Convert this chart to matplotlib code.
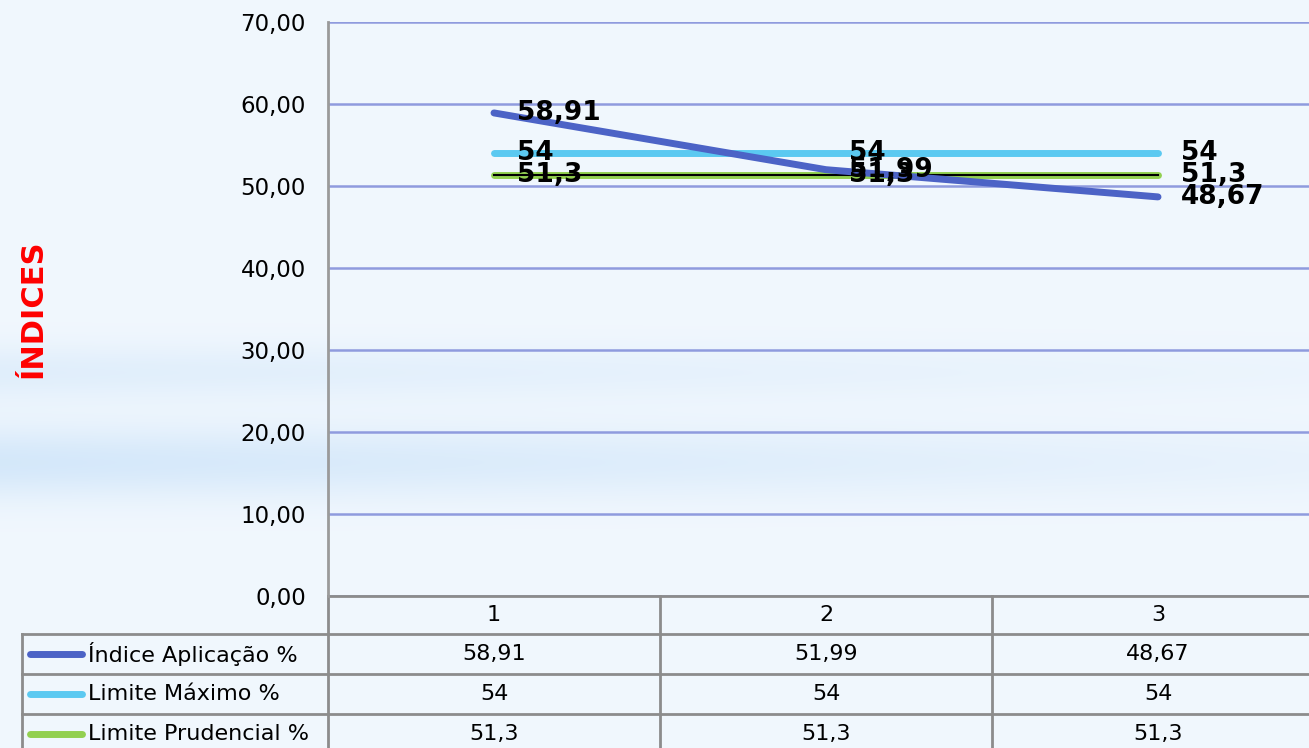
import numpy as np
import matplotlib.pyplot as plt
from matplotlib.transforms import blended_transform_factory

categorias = ["1", "2", "3"]
series_nomes = ["Índice Aplicação %", "Limite Máximo %", "Limite Prudencial %"]
indice_aplicacao = [58.91, 51.99, 48.67]
limite_maximo = [54, 54, 54]
limite_prudencial = [51.3, 51.3, 51.3]
rotulos_tabela = [
    ["58,91", "51,99", "48,67"],
    ["54", "54", "54"],
    ["51,3", "51,3", "51,3"],
]
y_ticks = [0, 10, 20, 30, 40, 50, 60, 70]

cores = ["#4C63C6", "#5BC9F1", "#92D050"]

W, H = 1309, 748
fig = plt.figure(figsize=(W / 100, H / 100), dpi=100)

# fundo em degradê azul claro
bg = fig.add_axes([0, 0, 1, 1], zorder=0)
yy, xx = np.mgrid[0:H, 0:W]
band = 0.6 * np.exp(-((yy - 462) / 36.0) ** 2) + 0.35 * np.exp(-((yy - 372) / 28.0) ** 2)
band = band * (1.0 - 0.7 * xx / W)
base = np.array([0.945, 0.970, 0.995])
blue = np.array([0.76, 0.87, 0.97])
img = base[None, None, :] * (1 - band[..., None]) + blue[None, None, :] * band[..., None]
bg.imshow(img, aspect="auto", extent=[0, W, H, 0])
bg.axis("off")

left, top, bottom = 328, 22, 596
col_w = 332
ax = fig.add_axes([left / W, (H - bottom) / H, 3 * col_w / W, (bottom - top) / H], zorder=1)
ax.set_facecolor("none")
ax.set_xlim(0.5, 3.5)
ax.set_ylim(0, 70)

x = np.arange(1, len(categorias) + 1)
ax.set_yticks(y_ticks)
ax.set_yticklabels([f"{v:.2f}".replace(".", ",") for v in y_ticks], fontsize=16.5)
ax.set_xticks([])
ax.tick_params(axis="y", length=0, pad=16)
ax.yaxis.grid(True, color="#8F9BDE", linewidth=1.8)
ax.set_axisbelow(True)
for s in ["top", "right", "bottom"]:
    ax.spines[s].set_visible(False)
ax.spines["left"].set_color("#9A9A9A")
ax.spines["left"].set_linewidth(2)

ax.plot(x, indice_aplicacao, color=cores[0], lw=5, solid_capstyle="round", zorder=4)
ax.plot(x, limite_maximo, color=cores[1], lw=5, solid_capstyle="round", zorder=3)
ax.plot(x, limite_prudencial, color=cores[2], lw=5, solid_capstyle="round", zorder=3)
ax.plot(x, limite_prudencial, color="black", lw=1.5, zorder=3)

for serie, rot in zip([indice_aplicacao, limite_maximo, limite_prudencial], rotulos_tabela):
    for xi, yi, t in zip(x, serie, rot):
        ax.annotate(t, (xi, yi), xytext=(23, 0), textcoords="offset pixels",
                    va="center", ha="left", fontsize=19, fontweight="bold", zorder=5)

fig.text(33 / W, 1 - 309 / H, "ÍNDICES", rotation=90, color="#FF0000",
         fontsize=22, fontweight="bold", ha="center", va="center")

# tabela de dados abaixo do eixo
tr = blended_transform_factory(ax.transData, fig.transFigure)
edge = "#8C8C8C"
row_y = [596, 634, 674, 714, 754]
fy = [1 - v / H for v in row_y]
x_left = 0.5 - (left - 22) / col_w
for b in fy:
    ax.plot([0.5, 3.5], [b, b], transform=tr, color=edge, lw=2, clip_on=False)
for b in fy[1:]:
    ax.plot([x_left, 0.5], [b, b], transform=tr, color=edge, lw=2, clip_on=False)
for xv in [1.5, 2.5]:
    ax.plot([xv, xv], [fy[0], fy[-1]], transform=tr, color=edge, lw=2, clip_on=False)
ax.plot([0.5, 0.5], [fy[0], fy[-1]], transform=tr, color=edge, lw=2, clip_on=False)
ax.plot([x_left, x_left], [fy[1], fy[-1]], transform=tr, color=edge, lw=2, clip_on=False)

for xi, c in zip(x, categorias):
    ax.text(xi, (fy[0] + fy[1]) / 2, c, transform=tr, ha="center", va="center", fontsize=16)
for i, (nome, rot) in enumerate(zip(series_nomes, rotulos_tabela)):
    yc = (fy[i + 1] + fy[i + 2]) / 2
    x0 = x_left + 8 / col_w
    ax.plot([x0, x0 + 52 / col_w], [yc, yc], transform=tr, color=cores[i], lw=5,
            solid_capstyle="round", clip_on=False)
    ax.text(x0 + 58 / col_w, yc, nome, transform=tr, ha="left", va="center", fontsize=16)
    for xi, t in zip(x, rot):
        ax.text(xi, yc, t, transform=tr, ha="center", va="center", fontsize=16)

fig.savefig("out.png", dpi=100)
plt.close(fig)
